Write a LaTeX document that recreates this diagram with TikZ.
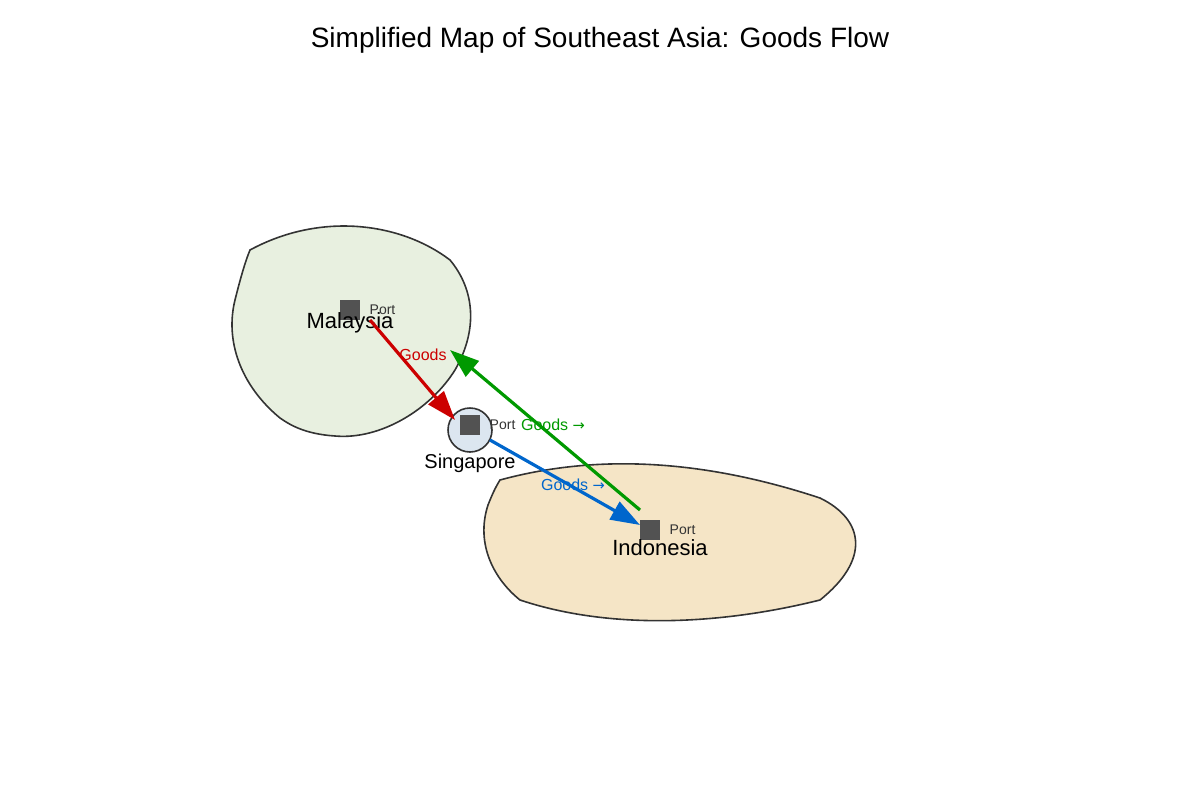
\documentclass[tikz,border=0pt]{standalone}
\usepackage{fontspec}
\setmainfont{Liberation Sans}
\newfontfamily\dv{DejaVu Sans}
\usetikzlibrary{arrows.meta}
\definecolor{myfill}{HTML}{E8F0E0}
\definecolor{idfill}{HTML}{F5E5C6}
\definecolor{sgfill}{HTML}{DCE6F0}
\definecolor{fred}{HTML}{CC0000}
\definecolor{fgreen}{HTML}{009900}
\definecolor{fblue}{HTML}{0066CC}
\begin{document}
\begin{tikzpicture}[x=0.75pt,y=-0.75pt,
  land/.style={draw=black!80,line width=1.2pt},
  port/.style={fill=black!68,minimum size=15pt,inner sep=0pt},
  portlbl/.style={font=\fontsize{10.5}{12}\selectfont,text=black!80,anchor=west},
  country/.style={font=\fontsize{16.5}{18}\selectfont},
  flow/.style={line width=2.4pt,-{Triangle[length=22pt,width=15pt]}},
  glbl/.style={font=\fontsize{12}{14}\selectfont}]
\useasboundingbox (0,0) rectangle (1200,800);
\node[font=\fontsize{21}{24}\selectfont] (title) at (600,40) {Simplified Map of Southeast Asia: Goods Flow};
% Malaysia
\draw[land,fill=myfill] (250,250) .. controls (320,212) and (400,222) .. (450,260)
  .. controls (475,290) and (478,330) .. (455,370)
  .. controls (430,410) and (380,440) .. (335,436)
  .. controls (305,434) and (290,425) .. (280,418)
  .. controls (240,385) and (225,340) .. (235,300)
  .. controls (240,280) and (245,262) .. (250,250) -- cycle;
% Indonesia
\draw[land,fill=idfill] (500,480) .. controls (610,450) and (720,465) .. (820,498)
  .. controls (865,520) and (870,560) .. (820,600)
  .. controls (720,625) and (610,630) .. (520,600)
  .. controls (495,580) and (475,545) .. (488,505)
  .. controls (492,495) and (495,488) .. (500,480) -- cycle;
% Singapore
\node[circle,draw=black!80,line width=1.2pt,fill=sgfill,minimum size=33pt,inner sep=0pt] (sg) at (470,430) {};
\node[port] (pm) at (350,310) {};
\node[port] (ps) at (470,425) {};
\node[port] (pi) at (650,530) {};
\node[portlbl] (lm) at (365,310) {Port};
\node[portlbl] (ls) at (485,425) {Port};
\node[portlbl] (li) at (665,530) {Port};
\node[country] (my) at (350,323) {Malaysia};
\node[country] (id) at (660,548) {Indonesia};
\node[font=\fontsize{15}{17}\selectfont] (sgl) at (470,463) {Singapore};
\coordinate (r1) at (370,320); \coordinate (r2) at (455,420);
\coordinate (g1) at (640,510); \coordinate (g2) at (450,350);
\coordinate (b1) at (490,440); \coordinate (b2) at (640,525);
\draw[flow,fred] (r1) -- (r2);
\draw[flow,fgreen] (g1) -- (g2);
\draw[flow,fblue] (b1) -- (b2);
\node[glbl,text=fred] (gr) at (423,355) {Goods};
\node[glbl,text=fgreen] (gg) at (553,425) {Goods {\dv\fontsize{11}{12}\selectfont →}};
\node[glbl,text=fblue] (gb) at (573,485) {Goods {\dv\fontsize{11}{12}\selectfont →}};
\end{tikzpicture}
\end{document}
